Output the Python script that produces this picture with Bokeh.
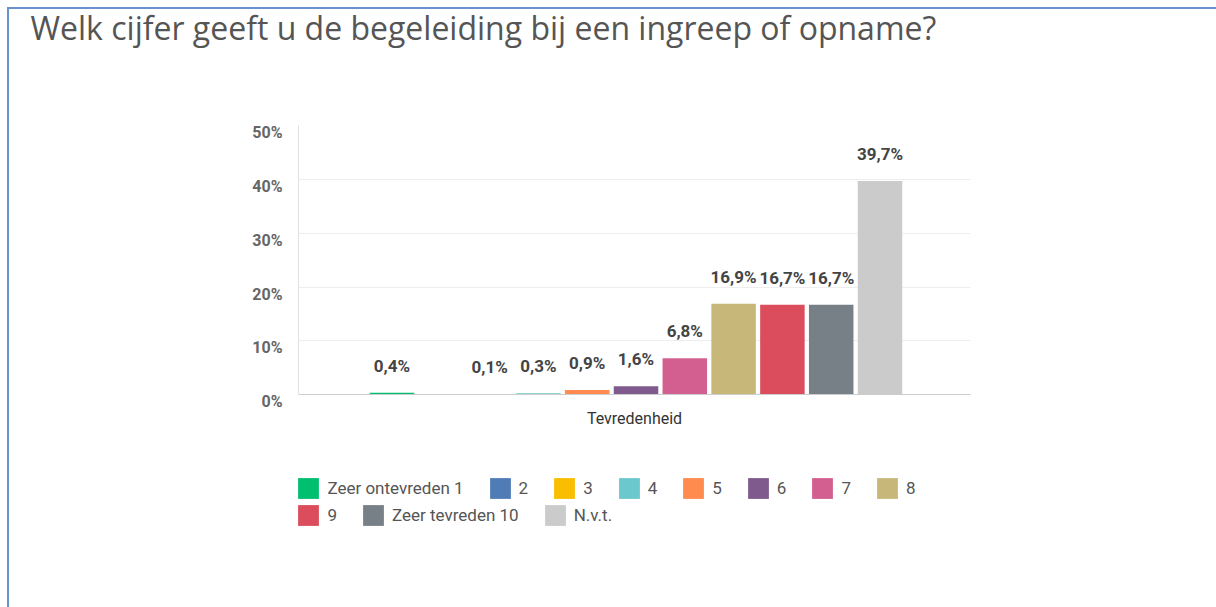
from bokeh.plotting import figure
from bokeh.models import (ColumnDataSource, FactorRange, Range1d, Legend, LegendItem,
                          FixedTicker, LinearAxis, Title)
from bokeh.transform import dodge
from bokeh.core.properties import value
from bokeh.embed import file_html
from bokeh.resources import INLINE

# ---------------- data ----------------
title_text = "Welk cijfer geeft u de begeleiding bij een ingreep of opname?"
category = ["Tevredenheid"]
series_names = ["Zeer ontevreden 1", "2", "3", "4", "5", "6", "7", "8", "9",
                "Zeer tevreden 10", "N.v.t."]
percentages = [0.4, 0.0, 0.1, 0.3, 0.9, 1.6, 6.8, 16.9, 16.7, 16.7, 39.7]
colors = ["#00BF6F", "#507CB6", "#F9BE00", "#6BC8CD", "#FF8B4F", "#7F5A8D",
          "#D25F90", "#C7B879", "#DB4D5C", "#768086", "#CBCBCB"]
y_ticks = [0, 10, 20, 30, 40, 50]
y_tick_labels = ["0%", "10%", "20%", "30%", "40%", "50%"]

# ---------------- layout constants ----------------
W, H = 1216, 607
ML, MT = 298, 125
FRAME_W = 970 - ML
FB = 540                      # frame bottom (frame also hosts the legend rows)
FRAME_H = FB - MT
MR = W - ML - FRAME_W
MB = H - FB
ZERO_PX = 394.3               # page y of the 0% line
PX_PER_UNIT = (ZERO_PX - MT) / 50
Y0 = -(FB - ZERO_PX) / PX_PER_UNIT
LABEL_SHIFT = 7.0 / PX_PER_UNIT
PITCH = 48.8 / FRAME_W
BAR_W = 44.5 / FRAME_W
SHIFT = 1.5 / FRAME_W
BORDER = "#6A91CF"

p = figure(width=W, height=H,
           x_range=FactorRange(factors=category, range_padding=0),
           y_range=Range1d(Y0, 50),
           output_backend="svg", toolbar_location=None,
           min_border_left=ML, min_border_right=MR,
           min_border_top=MT, min_border_bottom=MB)
p.outline_line_color = None
p.background_fill_color = "white"
p.border_fill_color = None
p.styles = {
    "background": (f"linear-gradient({BORDER},{BORDER}) 7px 7px / 2px 100% no-repeat, "
                   f"linear-gradient({BORDER},{BORDER}) 7px 7px / 100% 2px no-repeat, white"),
}

# empty spacer title next to the frame, real title above it
p.add_layout(Title(text=" ", standoff=64, text_font_size="10px"), "above")
p.add_layout(Title(text=title_text, align="left", offset=30 - ML, standoff=0,
                   text_font="Open Sans", text_font_size="32px",
                   text_font_style="normal", text_color="#555555"), "above")

# main y axis: only the line
p.yaxis.ticker = FixedTicker(ticks=[])
p.yaxis.bounds = (0, 50)
p.yaxis.axis_line_color = "#e2e2e2"
p.yaxis.major_tick_line_color = None
p.yaxis.minor_tick_line_color = None

# label axis: tick labels sit slightly below their grid lines
shifted = [round(t - LABEL_SHIFT, 4) for t in y_ticks]
lab_axis = LinearAxis(ticker=FixedTicker(ticks=shifted),
                      major_label_overrides={s: l for s, l in zip(shifted, y_tick_labels)},
                      axis_line_color=None, major_tick_line_color=None,
                      minor_tick_line_color=None, major_label_standoff=10,
                      major_label_text_font="Roboto", major_label_text_font_size="16px",
                      major_label_text_font_style="bold", major_label_text_color="#666666")
p.add_layout(lab_axis, "left")

# x axis sits on the 0 line
p.xaxis.fixed_location = 0
p.xaxis.axis_line_color = "#cccccc"
p.xaxis.major_tick_line_color = None
p.xaxis.minor_tick_line_color = None
p.xaxis.major_label_standoff = 8
p.xaxis.major_label_text_font = "Roboto"
p.xaxis.major_label_text_font_size = "16px"
p.xaxis.major_label_text_color = "#333333"

p.xgrid.grid_line_color = None
p.ygrid.ticker = FixedTicker(ticks=y_ticks)
p.ygrid.grid_line_color = "#eeeeee"

# bars + labels
items = []
for i, (name, v, c) in enumerate(zip(series_names, percentages, colors)):
    lab = (f"{v:.1f}".replace(".", ",") + "%") if v > 0 else ""
    src = ColumnDataSource(dict(cat=category, val=[v], lab=[lab]))
    off = (i - (len(series_names) - 1) / 2) * PITCH + SHIFT
    r = p.vbar(x=dodge("cat", off, range=p.x_range), top="val", bottom=0,
               width=BAR_W, source=src, fill_color=c, line_color=None)
    p.text(x=dodge("cat", off, range=p.x_range), y="val", text="lab", source=src,
           text_align="center", text_baseline="middle", y_offset=-27,
           text_font=value("Roboto"), text_font_style="bold",
           text_font_size="17px", text_color="#444444")
    items.append(LegendItem(label=name, renderers=[r]))

def make_legend(its, top_px):
    return Legend(items=its, orientation="horizontal",
                  location=(-2.6, FB - top_px - 26),
                  padding=0, margin=0, spacing=23, label_standoff=6,
                  glyph_width=26, glyph_height=26, label_height=20, label_width=0,
                  border_line_color=None, background_fill_alpha=0,
                  label_text_font="Roboto", label_text_font_size="17px",
                  label_text_color="#555555")

p.add_layout(make_legend(items[:8], 475.4))
p.add_layout(make_legend(items[8:], 502.4))

open("out.html", "w").write(file_html(p, INLINE))
